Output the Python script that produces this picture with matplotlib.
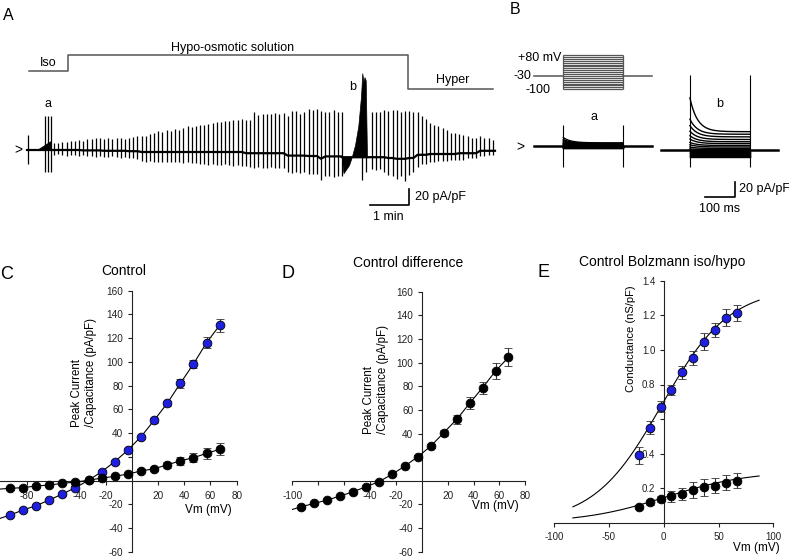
import numpy as np
import matplotlib
matplotlib.use("Agg")
import matplotlib.pyplot as plt

plt.rcParams['font.family'] = ['Liberation Sans', 'DejaVu Sans']
plt.rcParams['axes.unicode_minus'] = False

W, H = 789, 557

# ---------------- panel A : whole-cell current during solution changes
# time in min, current in pA/pF
first_spike_t = 0.033
first_spike_up, first_spike_dn = 19, 18
burst_t = [0.462, 0.546, 0.615]
burst_up, burst_dn = 42, 27
ramp_t = [0.282, 0.615, 0.615]
ramp_y = [0, 10.4, 0]

spike_dt = 0.107
p1_t0 = 0.692
p1_up = [9, 9, 10, 10, 11, 11, 12, 12, 14, 14, 15,
         15, 15, 16, 15, 16, 16, 15, 16,
         18, 19, 20, 20, 22,
         24, 26, 25, 28, 26, 29, 28, 30,
         32, 31, 32, 34, 34,
         35, 36, 38, 38, 39, 39, 40, 40, 41, 41,
         42, 51, 48, 49, 49, 49, 50, 49, 50, 50,
         56, 56, 52, 55, 59, 58, 59, 60,
         56, 55, 58, 55, 56]
p1_dn = [6, 5, 6, 7, 6, 6, 7, 6, 7, 7, 8, 7, 8, 8, 7, 8, 9, 8, 9, 9, 10,
         11, 12, 11, 12, 12, 13, 12, 13, 12, 13, 14, 13, 14, 14, 15,
         15, 16, 15, 16, 16, 15, 16, 17, 16, 17, 16, 17, 18, 17, 18,
         18, 17, 18, 19, 18,
         21, 22, 21, 22, 21,
         23, 22, 23, 26,
         25, 24, 26, 24, 25]
p1_base = [0, 0, 0, 0, 0, 0, 0, -0.5, -0.5, -0.5, -0.5, -0.5, -1, -1, -1, -1, -1, -1, -1.5, -1.5, -1.5,
           -2.5, -2.5, -2.5, -2.5, -2.5, -2.5, -2.5, -2.5, -2.5, -2.5, -2.5, -2.5, -2.5,
           -2.5, -2.5, -2.5, -2.5, -2.5, -2.5, -2.5, -2.5, -2.5, -2.5, -2.5, -2.5,
           -4, -4, -4, -4, -4, -4, -4, -4, -4, -4,
           -7, -7, -7, -7, -7,
           -7.5, -7.5, -7.5, -11,
           -8, -8, -8, -8, -8]

b_base = -9
b_t = [8.069, 8.115, 8.256, 8.326, 8.41, 8.495, 8.564, 8.597, 8.628, 8.654, 8.685, 8.718]
b_y = [0, -20, -10, 0, 15, 39, 76, 105, 94, 100, 96, 0]
b_spike_t = [8.597, 8.685]
b_spike_dn = [29, 18]

p2_t0 = 8.838
p2_up = [57, 56, 56, 59, 59, 60, 61, 59, 60, 59, 57, 53, 49, 45, 39,
         36, 35, 33, 30, 26, 26, 24, 23, 21, 19, 19, 19, 16, 16, 13]
p2_dn = [15, 16, 15, 19, 21, 22, 25, 22, 28, 21, 18, 15, 12, 11, 10,
         10, 9, 9, 9, 8, 8, 8, 8, 6, 6, 6, 6, 6, 5, 5]
p2_base = [-9, -9, -9, -9, -10, -10, -11, -11, -11, -10, -10, -6, -6, -6, -5,
           -5, -5, -5, -5, -5, -5, -4, -4, -4, -4, -4, -1, -1, -1, -1]
trace_end = 12.0

solution_t = [0.06, 1.06, 1.06, 9.78, 9.78, 11.96]
solution_y = [99, 99, 119, 119, 76, 76]

# ---------------- panel B : step protocol and current families
steps_mv = [-100, -90, -80, -70, -60, -50, -40, -30, -20, -10, 0, 10, 20, 30, 40, 50, 60, 70, 80]
hold_mv = -30
iso_ss = [-2.5, -2.2, -1.9, -1.6, -1.3, -1.0, -0.7, -0.4, -0.1, 0.2, 0.5, 0.9, 1.3, 1.7, 2.1, 2.6, 3.1, 3.6, 4.2]
iso_tr = [0, 0, 0, 0, 0, 0, 0, 0, 0, 0, 0, 0.5, 1, 1.5, 2, 3, 4, 5, 7]
hypo_ss = [-9, -8.2, -7.5, -6.5, -5.5, -4.5, -3.5, -2.5, -1, 0.5, 2, 4, 6, 8.5, 11, 14, 17.5, 21, 24.4]
hypo_tr = [0, 0, 0, 0, 0, 0, 0, 0, 0, 1, 2, 3, 4, 6, 8, 11, 15, 20, 45]
tau_ms = 25
step_ms = 200

# ---------------- panels C, D : I-V
vm = [-93, -83, -73, -63, -53, -43, -33, -23, -13, -3, 7, 17, 27, 37, 47, 57, 67]
c_hypo = [-29.1, -24.9, -21.2, -16.4, -11.4, -6.0, 0.2, 7.4, 15.9, 25.7, 36.9, 50.7, 65.1, 81.9, 98.2, 116.2, 130.8]
c_hypo_err = [1.2, 1.2, 1.2, 1.2, 1.2, 1.2, 1.2, 1.3, 1.4, 1.5, 1.6, 1.8, 2.0, 3.8, 3.7, 4.6, 5.2]
c_iso = [-6.6, -6.0, -4.6, -3.8, -2.4, -1.3, 0.2, 2.1, 3.5, 5.5, 8.0, 10.0, 13.1, 16.7, 19.2, 22.9, 26.3]
c_iso_err = [1.0, 1.0, 1.0, 1.0, 1.0, 1.0, 1.0, 1.0, 1.0, 1.2, 1.3, 1.5, 2.5, 3.2, 3.9, 4.5, 5.0]
c_fit_edge = -100.5
c_hypo_edge = -31.9
c_iso_edge = -7.2

d_diff = [-21.9, -19.1, -16.2, -12.9, -9.2, -5.0, -0.7, 5.5, 12.5, 20.4, 29.4, 40.7, 52.0, 65.6, 78.8, 92.9, 104.5]
d_err = [1.2, 1.2, 1.2, 1.2, 1.2, 1.2, 1.2, 1.2, 1.3, 1.5, 1.8, 2.5, 4.0, 5.0, 5.2, 6.8, 7.5]
d_edge = -24.4

# ---------------- panel E : conductance
e_vm = [-23, -13, -3, 7, 17, 27, 37, 47, 57, 67]
e_hypo = [0.391, 0.550, 0.672, 0.768, 0.870, 0.955, 1.048, 1.115, 1.186, 1.213]
e_hypo_err = [0.05, 0.037, 0.032, 0.03, 0.038, 0.04, 0.048, 0.043, 0.048, 0.047]
e_iso = [0.094, 0.119, 0.138, 0.155, 0.167, 0.190, 0.206, 0.215, 0.232, 0.244]
e_iso_err = [0.01, 0.015, 0.02, 0.032, 0.036, 0.044, 0.05, 0.045, 0.043, 0.045]
# Boltzmann fits: gmin, gmax, v_half, slope
boltz_hypo = (0.0, 1.36, -2.0, 31.0)
boltz_iso = (0.0, 0.30, 2.0, 38.0)
boltz_range = (-83, 87)

blue = '#1f1fe0'
grey = '#555555'

fig = plt.figure(figsize=(W / 100, H / 100), dpi=100)


def px_axes(x0, y0, x1, y1):
    return fig.add_axes([x0 / W, 1 - y1 / H, (x1 - x0) / W, (y1 - y0) / H])


def ftext(x, y, s, **kw):
    kw.setdefault('ha', 'center')
    kw.setdefault('va', 'center')
    kw.setdefault('fontsize', 9)
    fig.text(x / W, 1 - y / H, s, **kw)


# ---- A
axA = px_axes(0, 0, 500, 230)
axA.set_xlim(-0.6923, 12.1282)
axA.set_ylim(-100, 187.5)
axA.axis('off')

p1_t = p1_t0 + spike_dt * np.arange(len(p1_up))
p2_t = p2_t0 + spike_dt * np.arange(len(p2_up))
base_t = np.concatenate([[0], p1_t, [b_t[0], b_t[-1]], p2_t, [trace_end]])
base_y = np.concatenate([[0], p1_base, [b_base, b_base], p2_base, [p2_base[-1]]])
axA.plot(base_t, base_y, color='k', lw=1.6)
axA.vlines(first_spike_t, -first_spike_dn, first_spike_up, color='k', lw=0.9)
axA.fill(ramp_t, ramp_y, color='k', lw=0.5)
axA.vlines(burst_t, -burst_dn, burst_up, color='k', lw=0.9)
axA.vlines(p1_t, np.array(p1_base) - np.array(p1_dn), np.array(p1_base) + np.array(p1_up), color='k', lw=0.9)
axA.fill_between(b_t, b_base, b_base + np.array(b_y), color='k', lw=0.5)
axA.vlines(b_spike_t, b_base - np.array(b_spike_dn), b_base, color='k', lw=0.9)
axA.vlines(p2_t, np.array(p2_base) - np.array(p2_dn), np.array(p2_base) + np.array(p2_up), color='k', lw=0.9)
axA.plot(solution_t, solution_y, color=grey, lw=1.1)
# scale bars
axA.plot([8.80, 9.80, 9.80], [-68.75, -68.75, -48.75], color='k', lw=1.2)

ftext(8.3, 15, 'A', fontsize=11.5)
ftext(48.3, 62.7, 'Iso')
ftext(232.3, 47.7, 'Hypo-osmotic solution')
ftext(452.3, 80, 'Hyper')
ftext(48.3, 104, 'a')
ftext(352.7, 86.7, 'b')
ftext(18.3, 150, '>', fontsize=10)
ftext(415, 196.7, '20 pA/pF', ha='left')
ftext(388.3, 216.7, '1 min')

# ---- B
axB = px_axes(500, 0, 789, 230)
axB.set_xlim(-211, 752.3)
axB.set_ylim(-112, 194.7)
axB.axis('off')
tt = np.linspace(0, step_ms, 300)
iso_off = 0.0
hypo_off = -5.3
hypo_start = 422
axB.plot([-96.7, 294.7], [iso_off, iso_off], color='k', lw=1.8)
for ss, tr in zip(iso_ss, iso_tr):
    axB.plot(tt, iso_off + ss + tr * np.exp(-tt / tau_ms), color='k', lw=1.0)
axB.vlines([0, step_ms], -27.6, 28, color='k', lw=0.8)
axB.plot([324.7, 714.7], [hypo_off, hypo_off], color='k', lw=1.8)
for ss, tr in zip(hypo_ss, hypo_tr):
    axB.plot(hypo_start + tt, hypo_off + ss + tr * np.exp(-tt / tau_ms), color='k', lw=1.0)
axB.vlines([hypo_start, hypo_start + step_ms], -27.6, 94.7, color='k', lw=0.8)
axB.plot([472, 572, 572], [-67.6, -67.6, -47.6], color='k', lw=1.2)

axP = px_axes(534.3, 55, 651.7, 89.3)
axP.set_xlim(-96.7, 294.7)
axP.set_ylim(-100, 80)
axP.axis('off')
axP.hlines(steps_mv, 0, step_ms, color=grey, lw=0.9, clip_on=False)
axP.plot([-96.7, 0], [hold_mv, hold_mv], color=grey, lw=1.1, clip_on=False)
axP.plot([step_ms, 294.7], [hold_mv, hold_mv], color=grey, lw=1.1, clip_on=False)
axP.vlines([0, step_ms], steps_mv[0], steps_mv[-1], color=grey, lw=0.9, clip_on=False)

ftext(515, 10, 'B', fontsize=11.5)
ftext(561, 58.3, '+80 mV', ha='right')
ftext(531.7, 76, '-30', ha='right')
ftext(550, 90, '-100', ha='right')
ftext(594.3, 116.7, 'a')
ftext(720, 104, 'b')
ftext(520, 146.7, '>', fontsize=10)
ftext(739.3, 189.3, '20 pA/pF', ha='left')
ftext(720, 209.3, '100 ms')


def style_axes(ax, cross):
    for s in ['top', 'right']:
        ax.spines[s].set_visible(False)
    ax.spines['left'].set_position(('data', 0))
    if cross:
        ax.spines['bottom'].set_position(('data', 0))
    for s in ['left', 'bottom']:
        ax.spines[s].set_linewidth(0.8)
        ax.spines[s].set_color('#222222')
    ax.tick_params(direction='out', length=3, width=0.8, labelsize=7.2, colors='#222222')
    ax.tick_params(axis='x', pad=4.2)
    ax.tick_params(axis='y', pad=3)
    ax.patch.set_visible(False)


def points(ax, x, y, err, color):
    ax.errorbar(x, y, yerr=err, fmt='o', ms=6.3, mfc=color, mec='k', mew=0.6,
                ecolor='#333333', elinewidth=0.8, capsize=3, capthick=0.8, zorder=4, clip_on=False)


# ---- C
axC = px_axes(0.05, 290.7, 236.7, 551.7)
axC.set_xlim(-100.5, 80)
axC.set_ylim(-60, 160)
style_axes(axC, True)
axC.set_xticks([-80, -60, -40, -20, 20, 40, 60, 80])
axC.set_xticklabels(['-80', '', '-40', '-20', '20', '40', '60', '80'])
axC.set_yticks([-60, -40, -20, 20, 40, 60, 80, 100, 120, 140, 160])
axC.set_yticklabels(['-60', '-40', '-20', '', '40', '60', '80', '100', '120', '140', '160'])
axC.plot([c_fit_edge] + vm, [c_hypo_edge] + c_hypo, color='k', lw=0.8, zorder=3)
axC.plot([c_fit_edge] + vm, [c_iso_edge] + c_iso, color='k', lw=0.8, zorder=3)
points(axC, vm, c_hypo, c_hypo_err, blue)
points(axC, vm, c_iso, c_iso_err, 'k')

ftext(6.7, 275, 'C', fontsize=13)
ftext(124, 270.7, 'Control', fontsize=10)
ftext(84, 372.5, 'Peak Current\n/Capacitance (pA/pF)', rotation=90, multialignment='left', fontsize=8.3)
ftext(208.3, 510, 'Vm (mV)', fontsize=8.5)

# ---- D
axD = px_axes(291.75, 291.7, 525.3, 551.7)
axD.set_xlim(-100.5, 80)
axD.set_ylim(-60, 160)
style_axes(axD, True)
axD.set_xticks([-100, -80, -60, -40, -20, 20, 40, 60, 80])
axD.set_xticklabels(['-100', '', '', '-40', '-20', '20', '40', '60', '80'])
axD.set_yticks([-60, -40, -20, 20, 40, 60, 80, 100, 120, 140, 160])
axD.set_yticklabels(['-60', '-40', '-20', '', '40', '60', '80', '100', '120', '140', '160'])
axD.plot([c_fit_edge] + vm, [d_edge] + d_diff, color='k', lw=0.8, zorder=3)
points(axD, vm, d_diff, d_err, 'k')

ftext(288.3, 273.3, 'D', fontsize=13)
ftext(408.3, 262.7, 'Control difference', fontsize=10)
ftext(375.7, 380, 'Peak Current\n/Capacitance (pA/pF)', rotation=90, multialignment='left', fontsize=8.3)
ftext(495, 505.7, 'Vm (mV)', fontsize=8.5)

# ---- E
axE = px_axes(554.3, 280.7, 773.3, 522.9)
axE.set_xlim(-100, 100)
axE.set_ylim(0, 1.4)
style_axes(axE, False)
axE.tick_params(labelsize=7)
axE.tick_params(axis='x', pad=3.5)
axE.set_xticks([-100, -50, 0, 50, 100])
axE.set_yticks([0.2, 0.4, 0.6, 0.8, 1.0, 1.2, 1.4])
axE.set_yticklabels(['0.2', '0.4', '', '0.8', '1.0', '1.2', '1.4'])
vv = np.linspace(boltz_range[0], boltz_range[1], 200)
for gmin, gmax, vh, k in [boltz_hypo, boltz_iso]:
    axE.plot(vv, gmin + (gmax - gmin) / (1 + np.exp((vh - vv) / k)), color='k', lw=0.8, zorder=3)
points(axE, e_vm, e_hypo, e_hypo_err, blue)
points(axE, e_vm, e_iso, e_iso_err, 'k')

ftext(543.3, 272.3, 'E', fontsize=13)
ftext(662.3, 261.7, 'Control Bolzmann iso/hypo', fontsize=10)
ftext(630.7, 338.3, 'Conductance (nS/pF)', rotation=90, fontsize=8)
ftext(756.7, 548.3, 'Vm (mV)', fontsize=8.5)

fig.savefig('out.png', dpi=100)
